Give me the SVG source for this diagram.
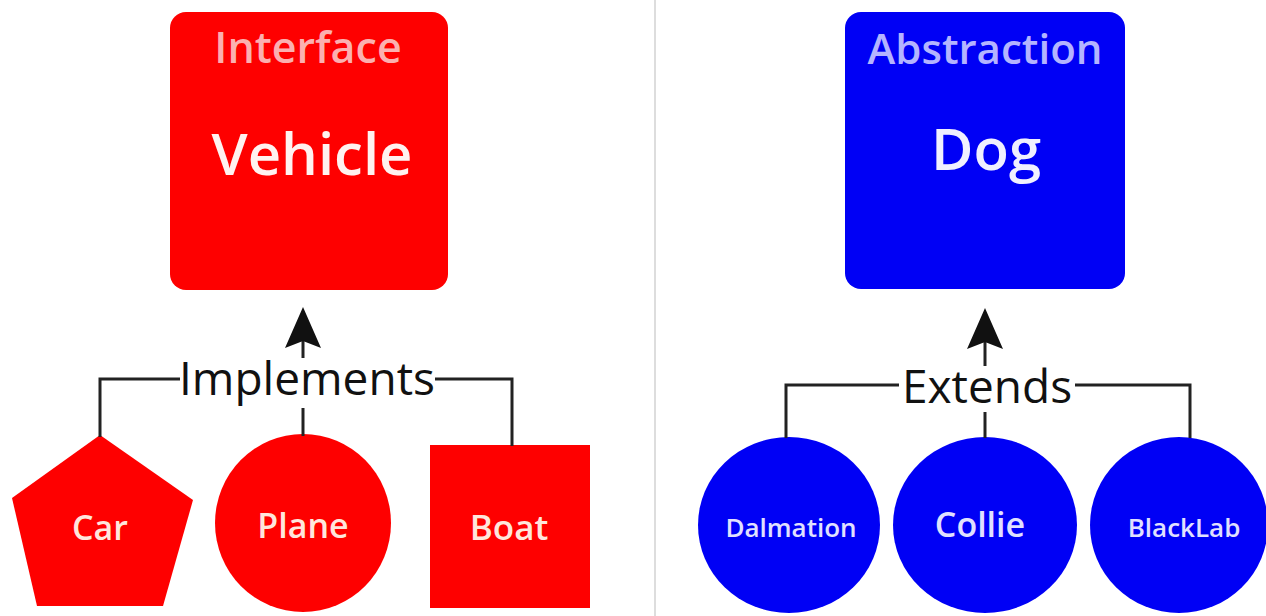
<svg xmlns="http://www.w3.org/2000/svg" width="1266" height="616" viewBox="0 0 1266 616">
<style>
  .red { fill: #fe0000; }
  .blue { fill: #0000f5; }
  .lbl { font-family: "Open Sans", "Noto Sans", sans-serif; font-weight: 600; text-anchor: middle; }
  .conn { fill: none; stroke: #222; stroke-width: 3; }
  .head { fill: #111; }
  .rel { font-family: "Open Sans", "Noto Sans", sans-serif; font-size: 46px; fill: #111; text-anchor: middle; }
</style>
<rect width="1266" height="616" fill="#ffffff"/>
<line x1="655" y1="0" x2="655" y2="616" stroke="#dddddd" stroke-width="2"/>

<g id="vehicle">
  <rect class="red" x="170" y="12" width="278" height="278" rx="16"/>
  <text class="lbl" x="308" y="63" font-size="43" fill="#fbb0b0">Interface</text>
  <text class="lbl" x="312" y="175" font-size="58" font-weight="500" fill="#fff2f0">Vehicle</text>
</g>
<g id="dog">
  <rect class="blue" x="845" y="12" width="280" height="277" rx="16"/>
  <text class="lbl" x="985" y="64" font-size="42" fill="#b4b4ff">Abstraction</text>
  <text class="lbl" x="986" y="170" font-size="58" font-weight="500" fill="#f0f0ff">Dog</text>
</g>

<g id="car">
  <polygon class="red" points="100,435 193,500 163,606 37,606 12,498"/>
  <text class="lbl" x="100" y="540" font-size="34" fill="#ffe6dc">Car</text>
</g>
<g id="plane">
  <ellipse class="red" cx="303" cy="523" rx="88" ry="89"/>
  <text class="lbl" x="303" y="538" font-size="34" fill="#ffe6dc">Plane</text>
</g>
<g id="boat">
  <rect class="red" x="430" y="445" width="160" height="163"/>
  <text class="lbl" x="509" y="540" font-size="35" fill="#ffe6dc">Boat</text>
</g>

<g id="dalmation">
  <ellipse class="blue" cx="789" cy="525" rx="91" ry="88"/>
  <text class="lbl" x="791" y="537" font-size="26" fill="#e0e0ff">Dalmation</text>
</g>
<g id="collie">
  <ellipse class="blue" cx="985" cy="525" rx="92" ry="88"/>
  <text class="lbl" x="980" y="537" font-size="34" fill="#e0e0ff">Collie</text>
</g>
<g id="blacklab">
  <ellipse class="blue" cx="1179" cy="525" rx="89" ry="88"/>
  <text class="lbl" x="1184" y="537" font-size="26" fill="#e0e0ff">BlackLab</text>
</g>

<g id="connectors">
  <polyline class="conn" points="100,437 100,379 180,379"/>
  <polyline class="conn" points="435,379 512,379 512,446"/>
  <line class="conn" x1="303" y1="408" x2="303" y2="436"/>
  <line class="conn" x1="303" y1="358" x2="303" y2="340"/>
  <polygon class="head" points="303,307 321,348 303,341 285,348"/>
  <text class="rel" x="307" y="395">Implements</text>

  <polyline class="conn" points="786,438 786,385 899,385"/>
  <polyline class="conn" points="1075,385 1190,385 1190,438"/>
  <line class="conn" x1="985" y1="412" x2="985" y2="438"/>
  <line class="conn" x1="985" y1="366" x2="985" y2="342"/>
  <polygon class="head" points="985,308 1003,349 985,342 967,349"/>
  <text class="rel" x="987" y="403">Extends</text>
</g>
</svg>
